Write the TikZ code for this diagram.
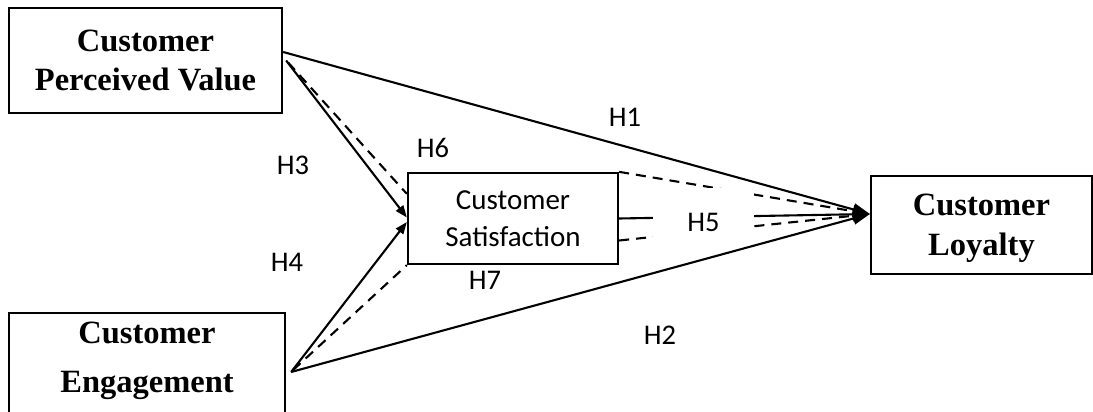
\documentclass[tikz,border=0pt]{standalone}
\usepackage{fontspec}
\setmainfont{Liberation Serif}
\newfontfamily\lblfont{Carlito}
\usetikzlibrary{arrows.meta,calc}
\begin{document}
\begin{tikzpicture}[x=1pt,y=-1pt,
  box/.style={draw,line width=2.3pt,inner sep=0pt},
  bigtext/.style={font=\bfseries\fontsize{32.5}{39}\selectfont,align=center},
  lbl/.style={font=\lblfont\fontsize{28.5}{30}\selectfont,inner sep=0pt},
  wire/.style={line width=2.1pt},
  bigtip/.style={-{Triangle[length=17pt,width=12pt]}},
  smalltip/.style={-{Triangle[length=12pt,width=9pt]}},
  dsh/.style={dash pattern=on 10pt off 7pt},
]
\useasboundingbox (0,0) rectangle (1093,412);

% boxes
\node[box,minimum width=273pt,minimum height=105pt,bigtext] (CPV) at (145.5,60.5) {Customer\\Perceived Value};
\node[box,minimum width=210pt,minimum height=91pt,align=center,
      font=\lblfont\fontsize{29}{37}\selectfont] (MS) at (513,218.5) {Customer\\Satisfaction};
\node[box,minimum width=221pt,minimum height=98pt,bigtext,text depth=0pt,
      font=\bfseries\fontsize{32.5}{40}\selectfont] (CL) at (981.5,225) {Customer\\Loyalty};
\node[box,minimum width=276pt,minimum height=117pt] (CE) at (147,371.5) {};
\node[bigtext,font=\bfseries\fontsize{32.5}{49}\selectfont,inner sep=0pt] (CEt) at (147,360.5) {Customer\\Engagement};

% connection points
\coordinate (cpvA) at ($(CPV.east)+(0,-8.5)$);
\coordinate (cpvB) at ($(CPV.east)+(3,0)$);
\coordinate (ceA) at ($(CE.east)+(5,0.5)$);
\coordinate (clin) at ($(CL.west)+(0,-11)$);
\coordinate (msA) at ($(MS.west)+(0,-1)$);
\coordinate (msB) at ($(MS.west)+(0,3.5)$);
\coordinate (msC) at ($(MS.north west)+(0,22)$);
\coordinate (msD) at ($(MS.east)+(0,22)$);

% connectors
\draw[wire,bigtip] (cpvA) -- (clin);            % H1
\draw[wire,smalltip] (cpvB) -- (msA);           % H3
\draw[wire,dsh] ($(cpvB)+(2,2)$) -- (msC);      % H6 (to mediator)
\draw[wire,dsh,bigtip] (MS.north east) -- (clin); % H6 (to loyalty)
\draw[wire,bigtip] (MS.east) -- (clin);         % H5
\draw[wire,dsh,bigtip] (msD) -- (clin);         % H7 (to loyalty)
\draw[wire,smalltip] (ceA) -- (msB);            % H4
\draw[wire,dsh] ($(ceA)+(2,-2)$) -- (MS.south west); % H7 (to mediator)
\draw[wire,bigtip] (ceA) -- (clin);             % H2

% labels
\node[lbl] (H1) at (625,117) {H1};
\node[lbl] (H3) at (293,165) {H3};
\node[lbl] (H6) at (433,148) {H6};
\node[lbl] (H4) at (287,262) {H4};
\node[lbl] (H7) at (485,280) {H7};
\node[lbl] (H2) at (660,335) {H2};
\node[lbl,fill=white,minimum width=101pt,text height=43pt,text depth=9pt,anchor=base] (H5) at (703.5,231) {H5};
\end{tikzpicture}
\end{document}
